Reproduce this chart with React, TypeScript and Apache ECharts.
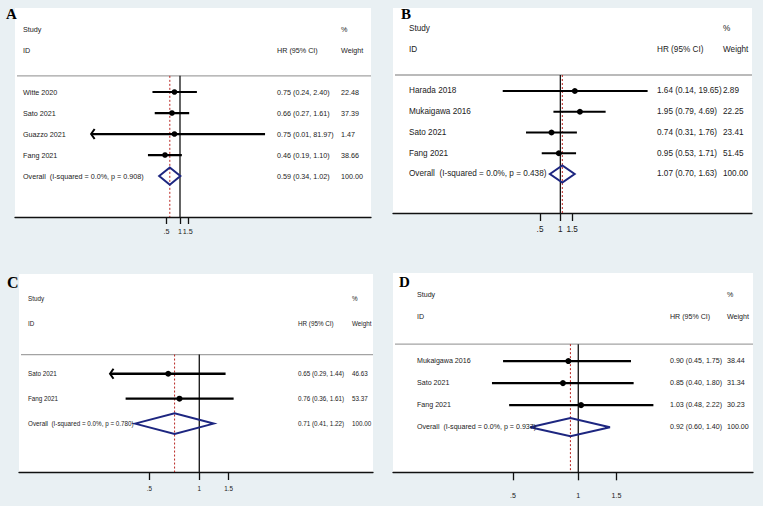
import React, { useEffect, useRef } from "react";
import * as echarts from "echarts";

// ---------- DATA ----------
// Panel A
const A_studies = ["Witte 2020", "Sato 2021", "Guazzo 2021", "Fang 2021"];
const A_hr = [0.75, 0.66, 0.75, 0.46];
const A_lo = [0.24, 0.27, 0.01, 0.19];
const A_hi = [2.4, 1.61, 81.97, 1.1];
const A_weight = [22.48, 37.39, 1.47, 38.66];
const A_arrowLeft = [false, false, true, false];
const A_overall = [0.59, 0.34, 1.02];
const A_het = ["0.0%", "0.908"];

// Panel B
const B_studies = ["Harada 2018", "Mukaigawa 2016", "Sato 2021", "Fang 2021"];
const B_hr = [1.64, 1.95, 0.74, 0.95];
const B_lo = [0.14, 0.79, 0.31, 0.53];
const B_hi = [19.65, 4.69, 1.76, 1.71];
const B_weight = [2.89, 22.25, 23.41, 51.45];
const B_arrowLeft = [false, false, false, false];
const B_overall = [1.07, 0.7, 1.63];
const B_het = ["0.0%", "0.438"];

// Panel C
const C_studies = ["Sato 2021", "Fang 2021"];
const C_hr = [0.65, 0.76];
const C_lo = [0.29, 0.36];
const C_hi = [1.44, 1.61];
const C_weight = [46.63, 53.37];
const C_arrowLeft = [true, false];
const C_overall = [0.71, 0.41, 1.22];
const C_het = ["0.0%", "0.780"];

// Panel D
const D_studies = ["Mukaigawa 2016", "Sato 2021", "Fang 2021"];
const D_hr = [0.9, 0.85, 1.03];
const D_lo = [0.45, 0.4, 0.48];
const D_hi = [1.75, 1.8, 2.22];
const D_weight = [38.44, 31.34, 30.23];
const D_arrowLeft = [false, false, false];
const D_overall = [0.92, 0.6, 1.4];
const D_het = ["0.0%", "0.937"];

const TICK_VALUES = [0.5, 1, 1.5];
const TICK_LABELS = [".5", "1", "1.5"];
const PANEL_LETTERS = ["A", "B", "C", "D"];
const HEADER_STUDY = "Study";
const HEADER_ID = "ID";
const HEADER_HR = "HR (95% CI)";
const HEADER_PCT = "%";
const HEADER_WEIGHT = "Weight";

const PANELS = [
  { studies: A_studies, hr: A_hr, lo: A_lo, hi: A_hi, weight: A_weight, arrow: A_arrowLeft, overall: A_overall, het: A_het },
  { studies: B_studies, hr: B_hr, lo: B_lo, hi: B_hi, weight: B_weight, arrow: B_arrowLeft, overall: B_overall, het: B_het },
  { studies: C_studies, hr: C_hr, lo: C_lo, hi: C_hi, weight: C_weight, arrow: C_arrowLeft, overall: C_overall, het: C_het },
  { studies: D_studies, hr: D_hr, lo: D_lo, hi: D_hi, weight: D_weight, arrow: D_arrowLeft, overall: D_overall, het: D_het },
];

// ---------- LAYOUT ----------
// letter: [dx from grid left, dy from grid top, font size]
const LAYOUT = [
  { grid: { left: 15, top: 8, width: 356, height: 209 }, xMin: -8.549, xMax: 9.896, yMax: 6.95, font: 7.2,
    col: { name: 8, hr: 262, wt: 326 }, tickLen: 7, labelMargin: 11, lw: 2.2, dot: 2.8, letter: [-9, 6, 15] },
  { grid: { left: 393, top: 8, width: 359, height: 205 }, xMin: -5.71, xMax: 6.54, yMax: 6.88, font: 8.2,
    col: { name: 16, hr: 264, wt: 330 }, tickLen: 8, labelMargin: 12, lw: 2.2, dot: 3, letter: [8, 6, 15] },
  { grid: { left: 19, top: 274, width: 354, height: 198 }, xMin: -2.5, xMax: 2.409, yMax: 4.94, font: 6.3,
    col: { name: 9, hr: 279, wt: 333 }, tickLen: 8, labelMargin: 13, lw: 2.3, dot: 3, letter: [-12, 8.5, 16] },
  { grid: { left: 393, top: 273, width: 360, height: 199.3 }, xMin: -1.967, xMax: 1.855, yMax: 6.05, font: 7.1,
    col: { name: 24, hr: 277, wt: 334 }, tickLen: 8, labelMargin: 20, lw: 2.3, dot: 3, letter: [6, 9, 15] },
];

const HEADER_ROW = 0.23;
const DIAMOND_HALF = 0.41;
const FONT = "'Liberation Sans', Arial, Helvetica, sans-serif";
const SERIF = "'Liberation Serif', 'Times New Roman', serif";
const TEXT_COLOR = "#222222";
const BG = "#e9f0f3";
const NAVY = "#1d2680";
const RED = "#b8231f";

const fmt = (v: number) => v.toFixed(2);
const tickLabel = (v: number) => {
  let best = 0;
  TICK_VALUES.forEach((t, i) => {
    if (Math.abs(Math.log(t) - v) < Math.abs(Math.log(TICK_VALUES[best]) - v)) best = i;
  });
  return TICK_LABELS[best];
};

function txt(x: number, y: number, text: string, size: number) {
  return {
    type: "text",
    x,
    y,
    style: { text, fontSize: size, fontFamily: FONT, fill: TEXT_COLOR, align: "left", verticalAlign: "middle" },
  };
}

function buildOption() {
  const series: any[] = [];
  PANELS.forEach((p, i) => {
    const l = LAYOUT[i];
    const n = p.studies.length;
    // frame: headers, header rule, null line, overall dashed line
    series.push({
      type: "custom",
      xAxisIndex: i,
      yAxisIndex: i,
      silent: true,
      data: [[0, HEADER_ROW]],
      renderItem: (params: any, api: any) => {
        const cs = params.coordSys;
        const yStudy = api.coord([0, -2])[1];
        const yId = api.coord([0, -1])[1];
        const [x0, yHead] = api.coord([0, HEADER_ROW]);
        const yBottom = api.coord([0, l.yMax])[1];
        const xOv = api.coord([Math.log(p.overall[0]), 0])[0];
        return {
          type: "group",
          children: [
            txt(cs.x + l.col.name, yStudy, HEADER_STUDY, l.font),
            txt(cs.x + l.col.name, yId, HEADER_ID, l.font),
            txt(cs.x + l.col.hr, yId, HEADER_HR, l.font),
            txt(cs.x + l.col.wt, yStudy, HEADER_PCT, l.font),
            txt(cs.x + l.col.wt, yId, HEADER_WEIGHT, l.font),
            { type: "line", shape: { x1: cs.x, y1: yHead, x2: cs.x + cs.width, y2: yHead }, style: { stroke: "#a3a3a3", lineWidth: 1.3 } },
            { type: "line", shape: { x1: x0, y1: yHead, x2: x0, y2: yBottom }, style: { stroke: "#111", lineWidth: 1.3 } },
            { type: "line", shape: { x1: xOv, y1: yHead, x2: xOv, y2: yBottom }, style: { stroke: RED, lineWidth: 1, lineDash: [2, 2] } },
          ],
        };
      },
    });
    // study rows + overall
    const rows = p.studies.map((_, j) => [Math.log(p.hr[j]), j + 1]);
    rows.push([Math.log(p.overall[0]), n + 1]);
    series.push({
      type: "custom",
      xAxisIndex: i,
      yAxisIndex: i,
      silent: true,
      data: rows,
      renderItem: (params: any, api: any) => {
        const j = params.dataIndex;
        const cs = params.coordSys;
        const row = j + 1;
        if (j < n) {
          const [xHr, y] = api.coord([Math.log(p.hr[j]), row]);
          const xLo = api.coord([Math.log(p.lo[j]), row])[0];
          const xHi = api.coord([Math.log(p.hi[j]), row])[0];
          const children: any[] = [
            { type: "line", shape: { x1: xLo, y1: y, x2: xHi, y2: y }, style: { stroke: "#000", lineWidth: l.lw } },
            { type: "circle", shape: { cx: xHr, cy: y, r: l.dot }, style: { fill: "#000" } },
            txt(cs.x + l.col.name, y, p.studies[j], l.font),
            txt(cs.x + l.col.hr, y, `${fmt(p.hr[j])} (${fmt(p.lo[j])}, ${fmt(p.hi[j])})`, l.font),
            txt(cs.x + l.col.wt, y, fmt(p.weight[j]), l.font),
          ];
          if (p.arrow[j]) {
            children.push({
              type: "polyline",
              shape: { points: [[xLo + 3.5, y - 5], [xLo, y], [xLo + 3.5, y + 5]] },
              style: { stroke: "#000", lineWidth: 2, fill: null },
            });
          }
          return { type: "group", children };
        }
        const [xHr, y] = api.coord([Math.log(p.overall[0]), row]);
        const xLo = api.coord([Math.log(p.overall[1]), row])[0];
        const xHi = api.coord([Math.log(p.overall[2]), row])[0];
        const yTop = api.coord([0, row - DIAMOND_HALF])[1];
        const yBot = api.coord([0, row + DIAMOND_HALF])[1];
        return {
          type: "group",
          children: [
            {
              type: "polygon",
              shape: { points: [[xLo, y], [xHr, yTop], [xHi, y], [xHr, yBot]] },
              style: { stroke: NAVY, lineWidth: 2, fill: null },
            },
            txt(cs.x + l.col.name, y, `Overall  (I-squared = ${p.het[0]}, p = ${p.het[1]})`, l.font),
            txt(cs.x + l.col.hr, y, `${fmt(p.overall[0])} (${fmt(p.overall[1])}, ${fmt(p.overall[2])})`, l.font),
            txt(cs.x + l.col.wt, y, fmt(100), l.font),
          ],
        };
      },
    });
    // overlay: clean left edge of the panel and the panel letter
    series.push({
      type: "custom",
      xAxisIndex: i,
      yAxisIndex: i,
      silent: true,
      z: 100,
      zlevel: 1,
      data: [[0, HEADER_ROW]],
      renderItem: (params: any) => {
        const cs = params.coordSys;
        return {
          type: "group",
          children: [
            { type: "rect", shape: { x: cs.x - 2.5, y: cs.y - 1, width: 2.5, height: cs.height + 0.3 }, style: { fill: BG } },
            { type: "rect", shape: { x: cs.x, y: cs.y, width: 2, height: cs.height - 1.5 }, style: { fill: "#ffffff" } },
            {
              type: "text",
              x: cs.x + l.letter[0],
              y: cs.y + l.letter[1],
              style: {
                text: PANEL_LETTERS[i],
                fontSize: l.letter[2],
                fontWeight: "bold",
                fontFamily: SERIF,
                fill: "#000",
                align: "left",
                verticalAlign: "middle",
              },
            },
          ],
        };
      },
    });
  });

  return {
    animation: false,
    backgroundColor: BG,
    grid: LAYOUT.map((l) => ({ ...l.grid, show: true, backgroundColor: "#ffffff", borderWidth: 0 })),
    xAxis: LAYOUT.map((l, i) => ({
      type: "value",
      gridIndex: i,
      min: l.xMin,
      max: l.xMax,
      position: "bottom",
      axisLine: { show: true, onZero: false, lineStyle: { color: "#111", width: 1.3 } },
      axisTick: { show: true, customValues: TICK_VALUES.map(Math.log), length: l.tickLen, lineStyle: { color: "#111", width: 1.3 } },
      axisLabel: {
        show: true,
        customValues: TICK_VALUES.map(Math.log),
        formatter: (v: number) => tickLabel(v),
        margin: l.labelMargin,
        fontSize: l.font,
        fontFamily: FONT,
        color: TEXT_COLOR,
      },
      splitLine: { show: false },
    })),
    yAxis: LAYOUT.map((l, i) => ({ type: "value", gridIndex: i, min: -3, max: l.yMax, inverse: true, show: false })),
    series,
  };
}

export default function App() {
  const ref = useRef<HTMLDivElement>(null);
  useEffect(() => {
    if (!ref.current) return;
    const chart = echarts.init(ref.current, undefined, { renderer: "svg" });
    chart.setOption(buildOption() as any);
    return () => chart.dispose();
  }, []);
  return <div ref={ref} style={{ position: "fixed", left: 0, top: 0, width: 763, height: 506 }} />;
}
